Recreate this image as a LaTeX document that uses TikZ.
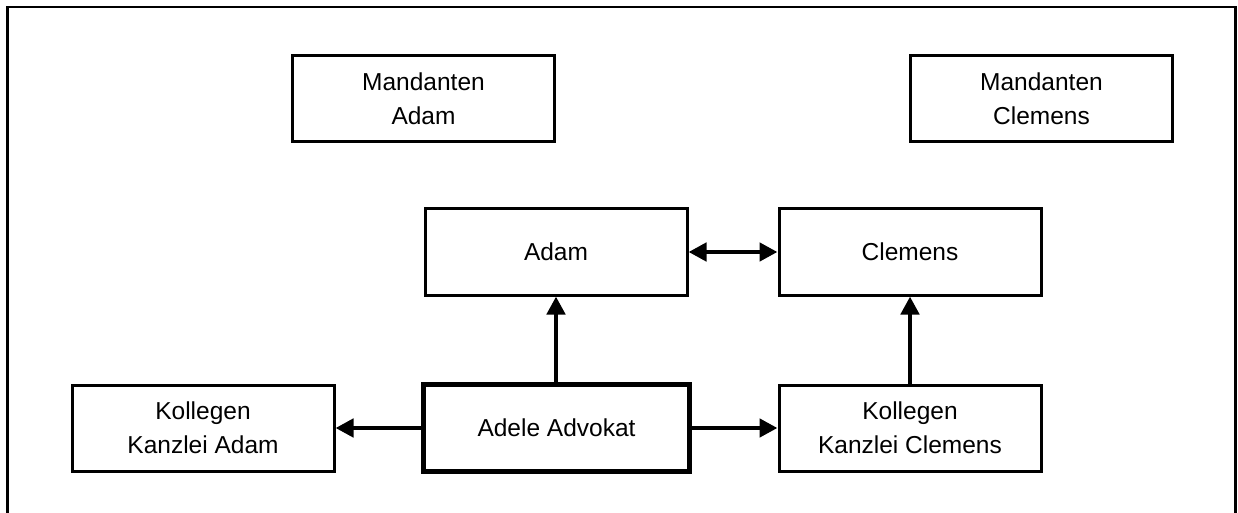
\documentclass[tikz,border=0pt]{standalone}
\usepackage{fontspec}
\setmainfont{Liberation Sans}
\usetikzlibrary{arrows.meta}
\tikzset{
  box/.style={draw, line width=3pt, minimum width=262pt, minimum height=86pt, align=center,
    inner sep=0pt, font=\fontsize{24.5pt}{34pt}\selectfont},
  mainbox/.style={box, line width=5.5pt, minimum width=266pt, minimum height=87pt},
  conn/.style={line width=4.5pt, -{Triangle[length=18pt,width=18pt]}},
  dconn/.style={line width=4.5pt, {Triangle[length=18pt,width=18pt]}-{Triangle[length=18pt,width=18pt]}},
  frame/.style={draw, line width=2.5pt}
}
\begin{document}
\begin{tikzpicture}[x=1pt,y=1pt]
\useasboundingbox (0,0) rectangle (1238,512);
\clip (0,0) rectangle (1238,512);
\draw[frame] (7.5,-20) -- (7.5,505) -- (1235.5,505) -- (1235.5,-20);
\node[box] (ma) at (423.5,413.5) {Mandanten\\Adam};
\node[box] (mc) at (1041.5,413.5) {Mandanten\\Clemens};
\node[box] (adam) at (556,260) {Adam};
\node[box] (clemens) at (910,260) {Clemens};
\node[mainbox] (adele) at (556.5,84) {Adele Advokat};
\node[box] (ka) at (203,84) {Kollegen\\Kanzlei Adam};
\node[box] (kc) at (910,84) {Kollegen\\Kanzlei Clemens};
\draw[conn] (adele.north -| adam.south) -- (adam.south);
\draw[conn] (kc.north) -- (clemens.south);
\draw[conn] (adele.west) -- (ka.east);
\draw[conn] (adele.east) -- (kc.west);
\draw[dconn] (adam.east) -- (clemens.west);
\end{tikzpicture}
\end{document}
